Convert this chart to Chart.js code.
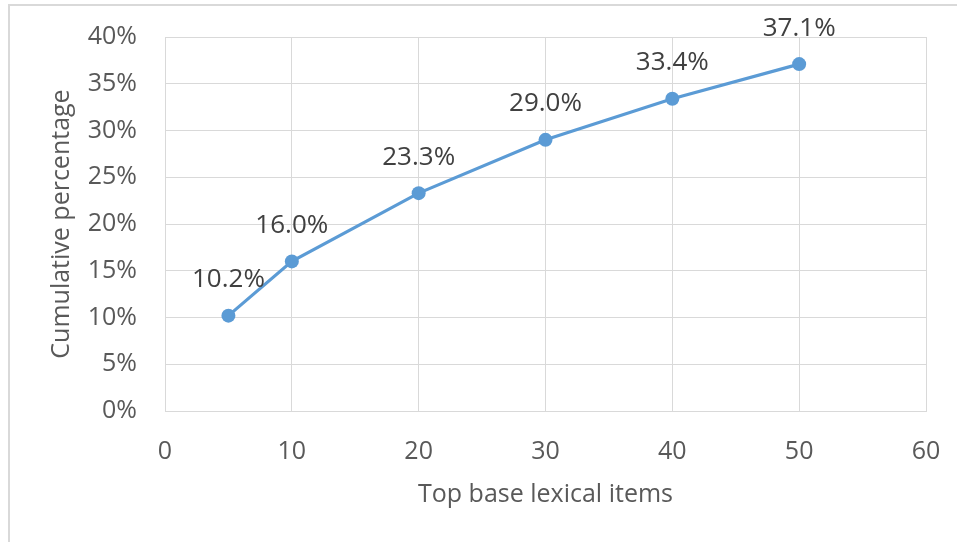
<!DOCTYPE html>
<html>
<head>
<meta charset="utf-8">
<script src="https://cdn.jsdelivr.net/npm/chart.js@4/dist/chart.umd.min.js"></script>
<style>
  html, body { margin: 0; padding: 0; background: #fff; }
  #wrap { width: 957px; height: 542px; position: relative; }
</style>
</head>
<body>
<div id="wrap"><canvas id="c" width="957" height="542"></canvas></div>
<script>
// Number of top base lexical items and the cumulative share they cover
const itemCounts = [5, 10, 20, 30, 40, 50];
const cumulativePct = [10.2, 16.0, 23.3, 29.0, 33.4, 37.1];

const xAxisTitle = 'Top base lexical items';
const yAxisTitle = 'Cumulative percentage';

const FONT = '"Open Sans", "Noto Sans", sans-serif';
const LINE_BLUE = '#5b9bd5';
const GRID = '#d9d9d9';

// Light frame along the top and left edges of the chart
const framePlugin = {
  id: 'frame',
  beforeDraw(chart) {
    const ctx = chart.ctx;
    ctx.save();
    ctx.fillStyle = '#ffffff';
    ctx.fillRect(0, 0, chart.width, chart.height);
    ctx.strokeStyle = '#d9d9d9';
    ctx.lineWidth = 2;
    ctx.beginPath();
    ctx.moveTo(9, chart.height);
    ctx.lineTo(9, 5);
    ctx.lineTo(chart.width, 5);
    ctx.stroke();
    ctx.restore();
  }
};

// Value labels centred above each point
const valueLabels = {
  id: 'valueLabels',
  afterDatasetsDraw(chart) {
    const ctx = chart.ctx;
    const meta = chart.getDatasetMeta(0);
    const values = chart.data.datasets[0].data;
    ctx.save();
    ctx.font = '26px ' + FONT;
    ctx.fillStyle = '#404040';
    ctx.textAlign = 'center';
    ctx.textBaseline = 'middle';
    meta.data.forEach((pt, i) => {
      ctx.fillText(values[i].y.toFixed(1) + '%', pt.x, pt.y - 36);
    });
    ctx.restore();
  }
};

new Chart(document.getElementById('c'), {
  type: 'scatter',
  data: {
    datasets: [{
      data: itemCounts.map((x, i) => ({ x: x, y: cumulativePct[i] })),
      showLine: true,
      borderColor: LINE_BLUE,
      backgroundColor: LINE_BLUE,
      borderWidth: 3.2,
      pointRadius: 7,
      pointHoverRadius: 7,
      pointBorderWidth: 0,
      clip: false
    }]
  },
  options: {
    responsive: false,
    animation: false,
    events: [],
    layout: { padding: { top: 37, right: 31, left: 0, bottom: 0 } },
    plugins: {
      legend: { display: false },
      tooltip: { enabled: false }
    },
    scales: {
      x: {
        type: 'linear',
        min: 0,
        max: 60,
        afterFit(scale) {
          scale.height = 131;
          scale.paddingLeft = 0;
          scale.paddingRight = 0;
        },
        grid: { color: GRID, lineWidth: 1, drawTicks: false },
        border: { color: GRID, width: 1 },
        ticks: {
          stepSize: 10,
          padding: 26,
          color: '#595959',
          font: { family: FONT, size: 25 }
        },
        title: {
          display: true,
          text: xAxisTitle,
          color: '#595959',
          font: { family: FONT, size: 25 },
          padding: { top: 0, bottom: 32 }
        }
      },
      y: {
        type: 'linear',
        min: 0,
        max: 40,
        afterFit(scale) {
          scale.width = 165;
          scale.paddingTop = 0;
          scale.paddingBottom = 0;
        },
        grid: { color: GRID, lineWidth: 1, drawTicks: false },
        border: { color: GRID, width: 1 },
        ticks: {
          stepSize: 5,
          padding: 28,
          color: '#595959',
          font: { family: FONT, size: 25 },
          callback: v => v + '%'
        },
        title: {
          display: true,
          text: yAxisTitle,
          color: '#595959',
          font: { family: FONT, size: 25 },
          padding: { top: 47, bottom: 0 }
        }
      }
    }
  },
  plugins: [framePlugin, valueLabels]
});
</script>
</body>
</html>
